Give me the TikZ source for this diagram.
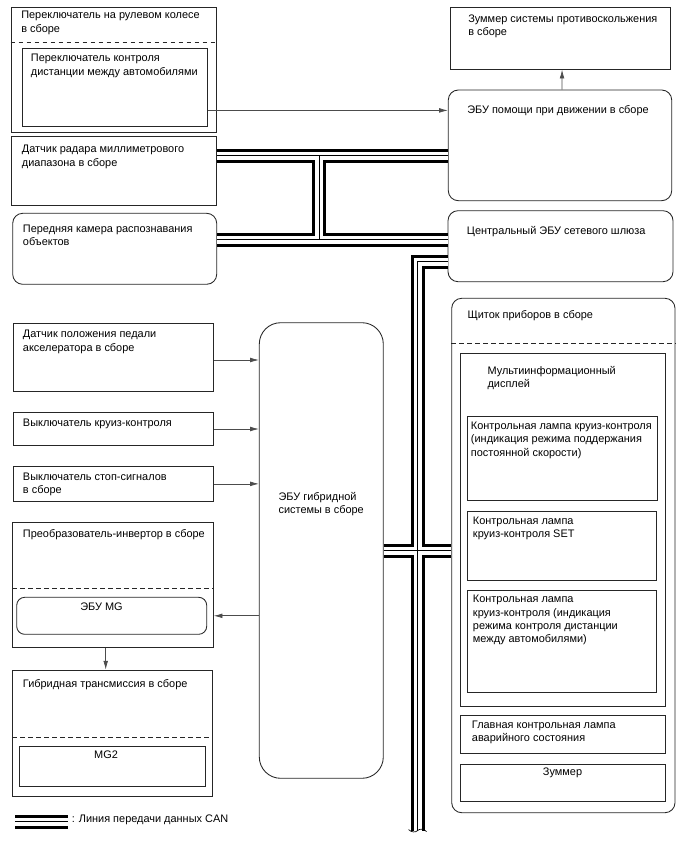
\documentclass[tikz,border=0pt]{standalone}
\usepackage{fontspec}
\setmainfont{Liberation Sans}
\usetikzlibrary{arrows.meta,calc,fit}
\begin{document}
\begin{tikzpicture}[x=0.75pt,y=-0.75pt,
  box/.style={draw=black!85, line width=0.65pt, inner sep=0pt},
  rbox/.style={box, rounded corners=7.5pt},
  txt/.style={anchor=north west, inner sep=0pt, align=left, font=\fontsize{8.2}{10}\selectfont},
  ctxt/.style={txt, anchor=north, align=center},
  arr/.style={draw=black!70, line width=0.5pt, -{Latex[length=6.5pt,width=3.5pt]}},
  dsh/.style={draw=black!85, line width=0.6pt, dash pattern=on 3.6pt off 2.4pt},
  can/.style={line width=10.5pt, draw=black, line join=miter,
     postaction={draw=white, line width=6pt},
     postaction={draw=black, line width=0.5pt}}
]
\useasboundingbox (0,0) rectangle (688,852);

% ---------- boxes ----------
\node[box, fit={(11,7) (216.7,132.3)}] (sw) {};
\node[box, fit={(22.7,48.3) (207.3,126)}] (isw) {};
\node[box, fit={(450,7.3) (670.7,69.3)}] (buz) {};
\node[rbox, fit={(448.3,90) (671.7,200.7)}] (asst) {};
\node[box, fit={(11,136.7) (216.7,205)}] (radar) {};
\node[rbox, fit={(12.7,213.3) (216.7,284.3)}] (cam) {};
\node[rbox, fit={(448,210.7) (673,281.7)}] (gw) {};
\node[box, fit={(13.3,323.3) (213.3,391.7)}] (acc) {};
\node[box, fit={(13.3,412.3) (213.3,445.7)}] (cru) {};
\node[box, fit={(13.3,466.7) (213.3,501)}] (stp) {};
\node[box, rounded corners=16pt, fit={(259.3,322.7) (383.3,778.3)}] (hyb) {};
\node[box, fit={(12.7,522.7) (213.3,647.3)}] (inv) {};
\node[box, rounded corners=6pt, fit={(16.7,597.3) (206.7,634.3)}] (mg) {};
\node[box, fit={(12.7,670) (212.3,796)}] (trn) {};
\node[box, fit={(19.3,746) (205.7,786.7)}] (mgtwo) {};
\node[rbox, fit={(451.7,298.3) (675,812.7)}] (clus) {};
\node[box, fit={(460,353.3) (665,706.7)}] (mid) {};
\node[box, fit={(467.3,416) (657.3,500)}] (lone) {};
\node[box, fit={(467.3,511) (656.7,580)}] (ltwo) {};
\node[box, fit={(467.3,590) (656.7,692.7)}] (lthree) {};
\node[box, fit={(460,715) (665,753.3)}] (mw) {};
\node[box, fit={(460,764) (665,801.7)}] (bzz) {};

% ---------- dashed dividers ----------
\draw[dsh] (sw.west |- {(0,42.3)}) -- (sw.east |- {(0,42.3)});
\draw[dsh] (inv.west |- {(0,588.7)}) -- (inv.east |- {(0,588.7)});
\draw[dsh] (trn.west |- {(0,737.7)}) -- (trn.east |- {(0,737.7)});
\draw[dsh] (clus.west |- {(0,343.3)}) -- (clus.east |- {(0,343.3)});

% ---------- texts ----------
\node[txt] (t-sw) at (21,11) {Переключатель на рулевом колесе\\в сборе};
\node[txt] (t-isw) at (30.7,54) {Переключатель контроля\\дистанции между автомобилями};
\node[txt] (t-buz) at (468,14.3) {Зуммер системы противоскольжения\\в сборе};
\node[txt] (t-asst) at (467,105) {ЭБУ помощи при движении в сборе};
\node[txt] (t-radar) at (21.7,145) {Датчик радара миллиметрового\\диапазона в сборе};
\node[txt] (t-cam) at (22.7,224.3) {Передняя камера распознавания\\объектов};
\node[txt] (t-gw) at (466.7,225.7) {Центральный ЭБУ сетевого шлюза};
\node[txt] (t-acc) at (22.7,330) {Датчик положения педали\\акселератора в сборе};
\node[txt] (t-cru) at (22.7,418.3) {Выключатель круиз-контроля};
\node[txt] (t-stp) at (22.7,472.3) {Выключатель стоп-сигналов\\в сборе};
\node[txt] (t-hyb) at (278.3,491.7) {ЭБУ гибридной\\системы в сборе};
\node[txt] (t-inv) at (22.7,529.3) {Преобразователь-инвертор в сборе};
\node[ctxt] (t-mg) at (101.5,602.3) {ЭБУ MG};
\node[txt] (t-trn) at (22.7,679.3) {Гибридная трансмиссия в сборе};
\node[ctxt] (t-mgtwo) at (106,750.7) {MG2};
\node[txt] (t-clus) at (467.3,310) {Щиток приборов в сборе};
\node[txt] (t-mid) at (487.3,366) {Мультиинформационный\\дисплей};
\node[txt] (t-lone) at (470.7,421.7) {Контрольная лампа круиз-контроля\\(индикация режима поддержания\\постоянной скорости)};
\node[txt] (t-ltwo) at (472.7,516.7) {Контрольная лампа\\круиз-контроля SET};
\node[txt] (t-lthree) at (472.7,595) {Контрольная лампа\\круиз-контроля (индикация\\режима контроля дистанции\\между автомобилями)};
\node[txt] (t-mw) at (471.7,720.7) {Главная контрольная лампа\\аварийного состояния};
\node[ctxt] (t-bzz) at (562.5,767.7) {Зуммер};

% ---------- arrows ----------
\draw[arr] ($(isw.south east)+(0,-16)$) coordinate (a1) -- (a1 -| asst.west);
\draw[arr] ($(asst.north)+(2,0)$) -- ($(buz.south)+(1.7,0)$);
\draw[arr] ($(acc.east)+(0,2.5)$) coordinate (a2) -- (a2 -| hyb.west);
\draw[arr] (cru.east) -- (cru.east -| hyb.west);
\draw[arr] (stp.east) -- (stp.east -| hyb.west);
\draw[arr] (hyb.west |- mg.east) -- (inv.east |- mg.east);
\draw[arr] ($(inv.south)+(-7.3,0)$) coordinate (a3) -- (a3 |- trn.north);

% ---------- CAN bus ----------
\draw[can]
  ($(radar.north east)+(0,19.3)$) coordinate (c1) -- (c1 -| asst.west)
  ($(cam.north east)+(0,26.7)$) coordinate (c2) -- (c2 -| gw.west)
  ($(c1)+(102.3,0)$) -- ($(c2)+(102.3,0)$)
  ($(gw.north west)+(0,51.3)$) coordinate (c3) -- ++(-30,0) coordinate (c4) -- ++(0,569) coordinate (c5)
  (hyb.east) -- (hyb.east -| clus.west);
\draw[black, line width=0.5pt] ($(c5)+(-9,-1)$) .. controls ($(c5)+(-6,2)$) and ($(c5)+(-2,2)$) .. ($(c5)+(0,0)$)
  .. controls ($(c5)+(2,-2)$) and ($(c5)+(6,-2)$) .. ($(c5)+(9,1)$);

% ---------- legend ----------
\coordinate (lg1) at (15,821.5);
\coordinate (lg2) at (68,821.5);
\draw[can] (lg1) -- (lg2);
\node[txt] (t-lg) at (71.5,815) {: Линия передачи данных CAN};
\end{tikzpicture}
\end{document}
